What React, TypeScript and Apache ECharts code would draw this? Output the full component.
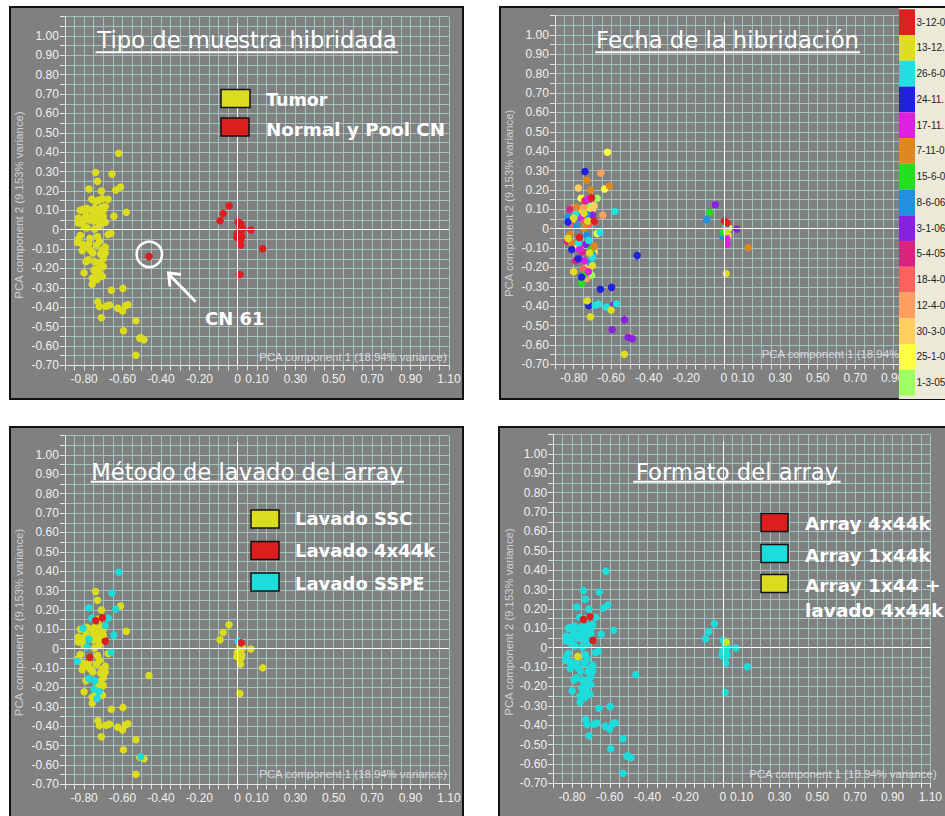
import React, { useEffect, useRef } from "react";
import * as echarts from "echarts";

// ---- data (PCA scores) ----
const pcaX = [
  -0.62, -0.74, -0.655, -0.73, -0.775, -0.71, -0.635, -0.61, -0.76, -0.74,
  -0.705, -0.725, -0.675, -0.71, -0.69, -0.58, -0.645, -0.70, -0.82, -0.805,
  -0.785, -0.80, -0.83, -0.83, -0.775, -0.75, -0.69, -0.80, -0.785, -0.745,
  -0.71, -0.725, -0.73, -0.675, -0.66, -0.77, -0.835, -0.83, -0.81, -0.775,
  -0.735, -0.81, -0.768, -0.705, -0.70, -0.715, -0.776, -0.79, -0.745, -0.717,
  -0.749, -0.722, -0.758, -0.732, -0.80, -0.758, -0.658, -0.598, -0.728, -0.72,
  -0.685, -0.668, -0.625, -0.60, -0.585, -0.572, -0.71, -0.53, -0.595, -0.505,
  -0.51, -0.488, -0.53, -0.69, -0.70, -0.705, -0.74, -0.70, -0.73, -0.765,
  -0.81, -0.745, -0.72, -0.69, -0.76, -0.745, -0.72, -0.79, -0.82, -0.79,
  -0.755, -0.73, -0.70, -0.72,
  -0.045, -0.076, -0.092, 0.002, 0.018, 0.012, 0.026, 0.069, -0.002, 0.015,
  0.009, -0.005, 0.015, 0.022, 0.015, 0.13, 0.012, -0.462,
];
const pcaY = [
  0.395, 0.295, 0.287, 0.25, 0.21, 0.20, 0.205, 0.22, 0.157, 0.145,
  0.16, 0.152, 0.157, 0.115, 0.12, 0.09, 0.07, 0.07, 0.10, 0.105,
  0.11, 0.055, 0.06, 0.035, 0.05, 0.045, 0.038, 0.015, 0.01, 0.003,
  0.045, 0.04, -0.035, -0.025, -0.018, -0.045, -0.065, -0.05, -0.075, -0.073,
  -0.08, -0.108, -0.105, -0.105, -0.135, -0.125, -0.155, -0.165, -0.165, -0.172,
  -0.208, -0.222, -0.25, -0.257, -0.222, -0.282, -0.313, -0.303, -0.372, -0.397,
  -0.395, -0.389, -0.405, -0.42, -0.393, -0.388, -0.455, -0.47, -0.522, -0.558,
  -0.56, -0.568, -0.648, -0.12, -0.15, -0.24, -0.235, 0.10, 0.075, 0.06,
  0.04, 0.11, -0.06, -0.09, 0.10, 0.08, 0.09, 0.075, -0.03, -0.09,
  -0.12, -0.20, -0.19, 0.02,
  0.124, 0.084, 0.046, 0.04, 0.03, 0.012, 0.003, -0.002, -0.02, -0.015,
  -0.03, -0.04, -0.05, -0.035, -0.08, -0.098, -0.231, -0.139,
];
// 0 = Tumor, 1 = Normal y Pool CN
const tipo = [
  0, 0, 0, 0, 0, 0, 0, 0, 0, 0, 0, 0, 0, 0, 0, 0, 0, 0, 0, 0,
  0, 0, 0, 0, 0, 0, 0, 0, 0, 0, 0, 0, 0, 0, 0, 0, 0, 0, 0, 0,
  0, 0, 0, 0, 0, 0, 0, 0, 0, 0, 0, 0, 0, 0, 0, 0, 0, 0, 0, 0,
  0, 0, 0, 0, 0, 0, 0, 0, 0, 0, 0, 0, 0, 0, 0, 0, 0, 0, 0, 0,
  0, 0, 0, 0, 0, 0, 0, 0, 0, 0, 0, 0, 0, 0,
  1, 1, 1, 1, 1, 1, 1, 1, 1, 1, 1, 1, 1, 1, 1, 1, 1, 1,
];
// index into fechaNames
const fecha = [
  13, 3, 11, 5, 12, 5, 13, 5, 13, 9, 0, 4, 14, 14, 12, 2, 11, 8, 9, 11,
  5, 1, 7, 3, 7, 10, 0, 10, 7, 5, 12, 1, 7, 13, 2, 0, 9, 1, 5, 2,
  8, 3, 4, 6, 7, 1, 3, 9, 4, 7, 10, 4, 3, 11, 1, 6, 3, 3, 1, 3,
  2, 2, 2, 1, 8, 2, 1, 8, 8, 11, 8, 8, 1, 12, 2, 14, 6, 12, 7, 4,
  13, 11, 2, 5, 12, 1, 13, 2, 5, 13, 9, 12, 1, 10,
  8, 6, 7, 0, 0, 2, 13, 8, 6, 1, 11, 7, 4, 12, 4, 5, 1, 3,
];
// 0 = Lavado SSC, 1 = Lavado 4x44k, 2 = Lavado SSPE
const lavado = [
  2, 0, 2, 0, 2, 0, 2, 0, 2, 1, 1, 0, 2, 0, 2, 0, 2, 0, 0, 2,
  0, 0, 0, 0, 2, 0, 1, 0, 2, 0, 0, 0, 0, 0, 2, 1, 2, 0, 0, 0,
  0, 0, 0, 0, 0, 0, 2, 0, 2, 0, 2, 2, 0, 2, 0, 0, 0, 0, 0, 0,
  0, 0, 0, 0, 0, 0, 0, 0, 0, 2, 0, 0, 0, 0, 0, 0, 0, 0, 0, 0,
  0, 0, 0, 0, 0, 0, 0, 0, 0, 0, 0, 0, 0, 0,
  0, 0, 0, 2, 1, 0, 0, 0, 0, 0, 0, 0, 0, 0, 0, 0, 0, 0,
];
// 0 = Array 4x44k, 1 = Array 1x44k, 2 = Array 1x44 + lavado 4x44k
const formato = [
  1, 1, 1, 1, 1, 1, 1, 1, 1, 0, 0, 1, 1, 1, 1, 1, 1, 1, 1, 1,
  1, 1, 1, 1, 1, 1, 0, 1, 1, 1, 1, 1, 1, 1, 1, 2, 1, 1, 1, 1,
  1, 1, 1, 1, 1, 1, 1, 1, 1, 1, 1, 1, 1, 1, 1, 1, 1, 1, 1, 1,
  1, 1, 1, 1, 1, 1, 1, 1, 1, 1, 1, 1, 1, 1, 1, 1, 1, 1, 1, 1,
  1, 1, 1, 1, 1, 1, 1, 1, 1, 1, 1, 1, 1, 1,
  1, 1, 1, 1, 2, 1, 1, 1, 1, 1, 1, 1, 1, 1, 1, 1, 1, 1,
];

const xTickLabels = ["-0.80", "-0.60", "-0.40", "-0.20", "0", "0.10", "0.30", "0.50", "0.70", "0.90", "1.10"];
const yTickLabels = ["1.00", "0.90", "0.80", "0.70", "0.60", "0.50", "0.40", "0.30", "0.20", "0.10", "0",
  "-0.10", "-0.20", "-0.30", "-0.40", "-0.50", "-0.60", "-0.70"];

const titles = ["Tipo de muestra hibridada", "Fecha de la hibridación", "Método de lavado del array", "Formato del array"];
const tipoNames = ["Tumor", "Normal y Pool CN"];
const fechaNames = ["3-12-0", "13-12.", "26-6-0", "24-11.", "17-11.", "7-11-0", "15-6-0", "8-6-06",
  "3-1-06", "5-4-05", "18-4-0", "12-4-0", "30-3-0", "25-1-0", "1-3-05"];
const lavadoNames = ["Lavado SSC", "Lavado 4x44k", "Lavado SSPE"];
const formatoNames = ["Array 4x44k", "Array 1x44k", "Array 1x44 +", "lavado 4x44k"];
const xName = "PCA component 1 (18.94% variance)";
const xNameCovered = "PCA component 1 (18.94% v";
const yName = "PCA component 2 (9.153% variance)";

const YEL = "#dcdc1e", RED = "#dc1e1e", CYA = "#1edcdc";
const fechaColors = ["#e02020", "#dede20", "#20e0e0", "#2020e0", "#e020e0", "#e08820", "#20e020", "#2090e0",
  "#8820e0", "#e02080", "#ff6060", "#ffa060", "#ffd060", "#ffff40", "#a0ff60"];

const GW = 384, GH = 348.7;
const gridPos = [
  { left: 64.9, top: 16.6 },
  { left: 554.9, top: 15.6 },
  { left: 64.9, top: 435.6 },
  { left: 553.2, top: 434.6 },
];

function pick(cat: number[], k: number) {
  const out: number[][] = [];
  pcaX.forEach((x, i) => { if (cat[i] === k) out.push([x, pcaY[i]]); });
  return out;
}
function fmt(set: Set<string>) {
  return (v: number) => {
    const r = Math.round(v * 100) / 100;
    const s = r === 0 ? "0" : r.toFixed(2);
    return set.has(s) ? s : "";
  };
}

const TXT = (x: number, y: number, text: string, o: any = {}) => ({
  type: "text", x, y, z: 100, silent: true, rotation: o.rotation || 0,
  style: {
    text, fill: o.fill || "#ffffff", fontSize: o.fontSize || 18, fontFamily: o.fontFamily || "DejaVu Sans",
    fontWeight: o.fontWeight || "normal", align: o.align || "left", textAlign: o.align || "left",
    verticalAlign: "middle", textVerticalAlign: "middle",
  },
});
const BOX = (x: number, y: number, w: number, h: number, fill: string) => ({
  type: "rect", z: 100, silent: true, shape: { x, y, width: w, height: h },
  style: { fill, stroke: "#111111", lineWidth: 1.5 },
});
const LINE = (x1: number, y1: number, x2: number, y2: number, w = 2) => ({
  type: "line", z: 100, silent: true, shape: { x1, y1, x2, y2 }, style: { stroke: "#ffffff", lineWidth: w },
});

export default function App() {
  const ref = useRef<HTMLDivElement>(null);
  useEffect(() => {
    if (!ref.current) return;
    const chart = echarts.init(ref.current, undefined, { renderer: "svg" });
    const xSet = new Set(xTickLabels), ySet = new Set(yTickLabels);

    const grids = gridPos.map((g) => ({ left: g.left, top: g.top, width: GW, height: GH, show: false }));
    const axisCommon = {
      type: "value", interval: 0.05,
      axisLine: { show: true, onZero: false, lineStyle: { color: "#e6e6e6", width: 1 } },
      axisTick: { show: true, length: 5, lineStyle: { color: "#e6e6e6" } },
      splitLine: { show: true, lineStyle: { color: "#a2c2c2", width: 1 } },
    };
    const xAxes = gridPos.map((_, i) => ({
      ...axisCommon, gridIndex: i, min: -0.9, max: 1.1,
      axisLabel: { formatter: fmt(xSet), color: "#f0f0f0", fontSize: 12, fontFamily: "Liberation Sans", margin: 8 },
    }));
    const yAxes = gridPos.map((_, i) => ({
      ...axisCommon, gridIndex: i, min: -0.7, max: 1.1,
      axisLabel: { formatter: fmt(ySet), color: "#f0f0f0", fontSize: 12, fontFamily: "Liberation Sans", margin: 6 },
    }));

    const series: any[] = [];
    gridPos.forEach((_, i) => {
      series.push({
        type: "scatter", xAxisIndex: i, yAxisIndex: i, data: [], z: 1, silent: true,
        markLine: {
          silent: true, symbol: ["none", "none"], label: { show: false }, animation: false,
          lineStyle: { color: "#ffffff", width: 1, type: "solid" },
          data: [
            [{ coord: [0, 1.065] }, { coord: [0, -0.7] }],
            [{ coord: [-0.9, 0] }, { coord: [1.1, 0] }],
          ],
        },
      });
    });
    const sc = (i: number, name: string, data: number[][], color: string) => ({
      type: "scatter", name, xAxisIndex: i, yAxisIndex: i, data, symbolSize: 7.5, z: 2, silent: true,
      itemStyle: { color, opacity: 1 },
    });
    series.push(sc(0, tipoNames[0], pick(tipo, 0), YEL));
    series.push(sc(0, tipoNames[1], pick(tipo, 1), RED));
    for (let k = fechaNames.length - 1; k >= 0; k--) series.push(sc(1, fechaNames[k], pick(fecha, k), fechaColors[k]));
    series.push(sc(2, lavadoNames[0], pick(lavado, 0), YEL));
    series.push(sc(2, lavadoNames[2], pick(lavado, 2), CYA));
    series.push(sc(2, lavadoNames[1], pick(lavado, 1), RED));
    series.push(sc(3, formatoNames[1], pick(formato, 1), CYA));
    series.push(sc(3, formatoNames[0], pick(formato, 0), RED));
    series.push(sc(3, formatoNames[2], pick(formato, 2), YEL));

    const panelRects = [[10, 7, 453, 392], [500, 7, 460, 392], [10, 427, 453, 400], [499, 427, 460, 400]];
    const g: any[] = panelRects.map((r) => ({
      type: "rect", z: -10, silent: true, shape: { x: r[0], y: r[1], width: r[2], height: r[3] },
      style: { fill: "#808080", stroke: "#111111", lineWidth: 2 },
    }));

    // axis names
    const nameFont = { fontSize: 11.4, fontFamily: "Liberation Sans" };
    const yNamePos = [[19.3, 205], [509.3, 203.3], [19.3, 622.5], [509, 622]];
    yNamePos.forEach((p) => g.push(TXT(p[0], p[1], yName, { ...nameFont, rotation: Math.PI / 2, align: "center", fill: "#d2d2d2" })));
    g.push(TXT(446.7, 356.7, xName, { ...nameFont, align: "right", fill: "#d8d8d8" }));
    g.push(TXT(761.7, 354.3, xNameCovered, { ...nameFont, fill: "#d8d8d8" }));
    g.push(TXT(446.7, 774, xName, { ...nameFont, align: "right", fill: "#d8d8d8" }));
    g.push(TXT(936.7, 774, xName, { ...nameFont, align: "right", fill: "#d8d8d8" }));

    // titles with underline
    const titlePos = [[247, 40, 95.5, 398, 52.3], [727.5, 40, 595.3, 860, 52.3], [247, 471.5, 90.7, 404, 481.7], [737, 471.5, 633.3, 840.7, 481.7]];
    titlePos.forEach((p, i) => {
      g.push(TXT(p[0], p[1], titles[i], { align: "center", fontSize: 22.7 }));
      g.push(LINE(p[2], p[4], p[3], p[4], 2));
    });

    // legend panel 1
    g.push(BOX(221, 89.5, 29, 18, YEL), BOX(221, 118, 28, 18, RED));
    g.push(TXT(266, 100, tipoNames[0], { fontWeight: "bold", fontSize: 17.5 }));
    g.push(TXT(266, 129.5, tipoNames[1], { fontWeight: "bold", fontSize: 18.3 }));
    // CN 61 annotation
    g.push({ type: "circle", z: 100, silent: true, shape: { cx: 149.3, cy: 254.3, r: 12.7 }, style: { fill: "none", stroke: "#ffffff", lineWidth: 2.5 } });
    g.push(LINE(195.7, 301.7, 169, 274.5, 3));
    g.push({ type: "polyline", z: 100, silent: true, shape: { points: [[181, 274.5], [168.5, 273], [170, 286.5]] }, style: { fill: "none", stroke: "#ffffff", lineWidth: 3 } });
    g.push(TXT(205, 318, "CN 61", { fontWeight: "bold", fontSize: 18 }));

    // legend panel 2 (dates)
    g.push({ type: "rect", z: 100, silent: true, shape: { x: 899, y: 8, width: 46, height: 391 }, style: { fill: "#ece9d8" } });
    fechaNames.forEach((n, k) => {
      const y = 9.3 + k * 25.75;
      g.push({ type: "rect", z: 101, silent: true, shape: { x: 899, y, width: 16, height: 25.75 }, style: { fill: fechaColors[k] } });
      g.push(TXT(916.5, y + 12.9, n, { fontSize: 10, fontFamily: "Liberation Sans", fill: "#222222" }));
    });

    // legend panel 3
    const lavCols = [YEL, RED, CYA];
    [510, 541.5, 573].forEach((y, k) => g.push(BOX(251, y, 28, 18, lavCols[k])));
    [518.5, 550.5, 583].forEach((y, k) => g.push(TXT(295, y, lavadoNames[k], { fontWeight: "bold", fontSize: 18 })));

    // legend panel 4
    const forCols = [RED, CYA, YEL];
    [513.5, 544.5, 574.5].forEach((y, k) => g.push(BOX(761, y, 27, 18, forCols[k])));
    [523.5, 555, 585.5, 610].forEach((y, k) => g.push(TXT(805, y, formatoNames[k], { fontWeight: "bold", fontSize: 18.5 })));

    chart.setOption({
      animation: false,
      backgroundColor: "#ffffff",
      grid: grids,
      xAxis: xAxes,
      yAxis: yAxes,
      series,
      graphic: { elements: g },
    });
    return () => chart.dispose();
  }, []);
  return <div ref={ref} style={{ position: "fixed", left: 0, top: 0, width: 945, height: 816 }} />;
}
